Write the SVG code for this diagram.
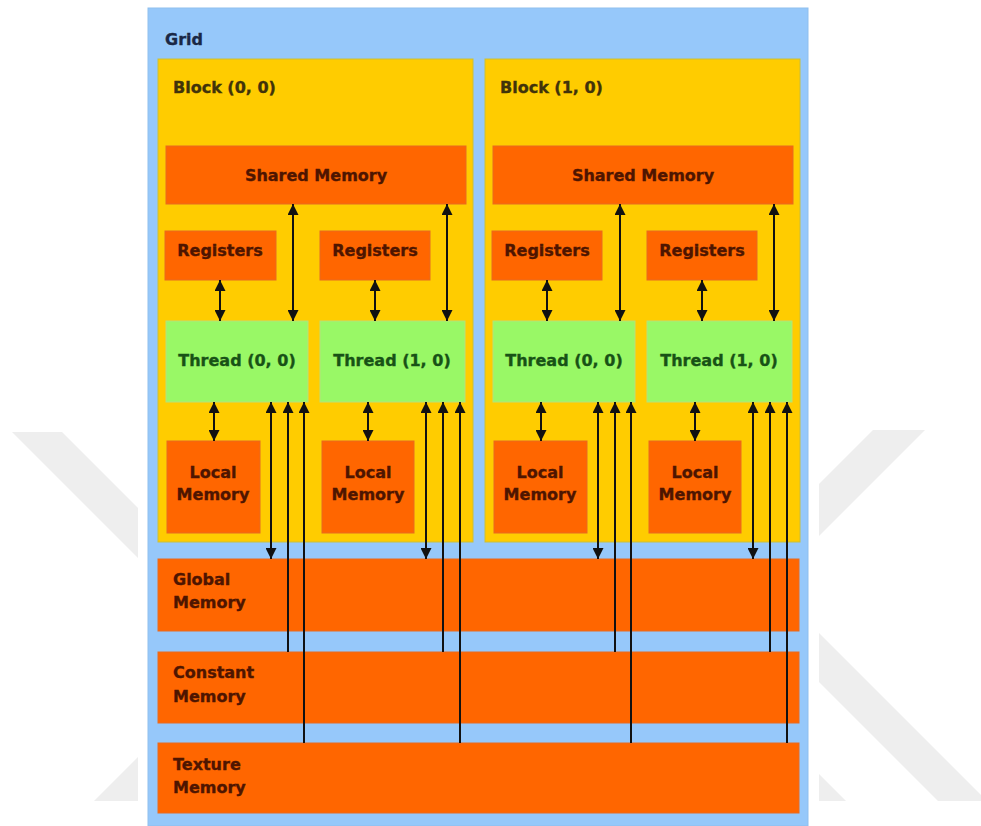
<svg xmlns="http://www.w3.org/2000/svg" width="981" height="826" viewBox="0 0 981 826">
<style>
  text { font-family: "DejaVu Sans", "Liberation Sans", sans-serif; font-weight: bold; font-size: 16px; stroke-width: 0.35px; }
  .wm { fill: #eeeeee; }
  .grid { fill: #96c8fa; stroke: #8fbfee; stroke-width: 1; }
  .block { fill: #ffcc00; stroke: #c9bf3a; stroke-width: 1; }
  .mem { fill: #ff6600; stroke: #e86a20; stroke-width: 1; }
  .thr { fill: #99f866; stroke: #b8e07a; stroke-width: 1; }
  .tmem { fill: #4e1500; stroke: #4e1500; }
  .tthr { fill: #185216; stroke: #185216; text-anchor: middle; }
  .tblk { fill: #41330a; stroke: #41330a; }
  .tgrid { fill: #1a2846; stroke: #1a2846; }
  .c { text-anchor: middle; }
  .ln { stroke: #111; stroke-width: 2; fill: none; }
</style>
<defs>
  <marker id="ah" viewBox="0 0 11 11" refX="11" refY="5.5" markerWidth="11" markerHeight="11" markerUnits="userSpaceOnUse" orient="auto-start-reverse">
    <path d="M0,0 L11,5.5 L0,11 Z" fill="#111"/>
  </marker>
</defs>
<rect width="981" height="826" fill="#ffffff"/>
<g id="watermark">
  <polygon class="wm" points="12,432 62,432 138,508 138,558"/>
  <polygon class="wm" points="138,757 138,801 94,801"/>
  <polygon class="wm" points="873,430 925,430 819,536 819,484"/>
  <polygon class="wm" points="819,633 981,795 981,801 938,801 819,682"/>
  <polygon class="wm" points="819,774 846,801 819,801"/>
</g>
<g id="grid">
  <rect class="grid" x="148" y="8" width="660" height="818"/>
  <text class="tgrid" x="165" y="45">Grid</text>
</g>
<g id="block00">
  <rect class="block" x="158" y="59" width="315" height="483"/>
  <text class="tblk" x="173" y="93">Block (0, 0)</text>
</g>
<g id="block10">
  <rect class="block" x="485" y="59" width="315" height="483"/>
  <text class="tblk" x="500" y="93">Block (1, 0)</text>
</g>
<g id="shared0">
  <rect class="mem" x="166" y="146" width="300" height="58"/>
  <text class="tmem c" x="316" y="181">Shared Memory</text>
</g>
<g id="shared1">
  <rect class="mem" x="493" y="146" width="300" height="58"/>
  <text class="tmem c" x="643" y="181">Shared Memory</text>
</g>
<g id="reg00">
  <rect class="mem" x="165" y="231" width="111" height="49"/>
  <text class="tmem c" x="220" y="256">Registers</text>
</g>
<g id="reg01">
  <rect class="mem" x="320" y="231" width="110" height="49"/>
  <text class="tmem c" x="375" y="256">Registers</text>
</g>
<g id="reg10">
  <rect class="mem" x="492" y="231" width="110" height="49"/>
  <text class="tmem c" x="547" y="256">Registers</text>
</g>
<g id="reg11">
  <rect class="mem" x="647" y="231" width="110" height="49"/>
  <text class="tmem c" x="702" y="256">Registers</text>
</g>
<g id="thread00">
  <rect class="thr" x="166" y="321" width="142" height="81"/>
  <text class="tthr" x="237" y="366">Thread (0, 0)</text>
</g>
<g id="thread01">
  <rect class="thr" x="320" y="321" width="145" height="81"/>
  <text class="tthr" x="392" y="366">Thread (1, 0)</text>
</g>
<g id="thread10">
  <rect class="thr" x="493" y="321" width="142" height="81"/>
  <text class="tthr" x="564" y="366">Thread (0, 0)</text>
</g>
<g id="thread11">
  <rect class="thr" x="647" y="321" width="145" height="81"/>
  <text class="tthr" x="719" y="366">Thread (1, 0)</text>
</g>
<g id="local00">
  <rect class="mem" x="167" y="441" width="93" height="92"/>
  <text class="tmem c" x="213" y="478">Local</text>
  <text class="tmem c" x="213" y="500">Memory</text>
</g>
<g id="local01">
  <rect class="mem" x="322" y="441" width="92" height="92"/>
  <text class="tmem c" x="368" y="478">Local</text>
  <text class="tmem c" x="368" y="500">Memory</text>
</g>
<g id="local10">
  <rect class="mem" x="494" y="441" width="93" height="92"/>
  <text class="tmem c" x="540" y="478">Local</text>
  <text class="tmem c" x="540" y="500">Memory</text>
</g>
<g id="local11">
  <rect class="mem" x="649" y="441" width="92" height="92"/>
  <text class="tmem c" x="695" y="478">Local</text>
  <text class="tmem c" x="695" y="500">Memory</text>
</g>
<g id="global">
  <rect class="mem" x="158" y="559" width="641" height="72"/>
  <text class="tmem" x="173" y="585">Global</text>
  <text class="tmem" x="173" y="608">Memory</text>
</g>
<g id="constant">
  <rect class="mem" x="158" y="652" width="641" height="71"/>
  <text class="tmem" x="173" y="678">Constant</text>
  <text class="tmem" x="173" y="702">Memory</text>
</g>
<g id="texture">
  <rect class="mem" x="158" y="743" width="641" height="70"/>
  <text class="tmem" x="173" y="770">Texture</text>
  <text class="tmem" x="173" y="793">Memory</text>
</g>
<g id="connectors">
  <!-- block 0 thread 0 -->
  <line class="ln" x1="220" y1="280" x2="220" y2="321" marker-start="url(#ah)" marker-end="url(#ah)"/>
  <line class="ln" x1="293" y1="204" x2="293" y2="321" marker-start="url(#ah)" marker-end="url(#ah)"/>
  <line class="ln" x1="214" y1="402" x2="214" y2="441" marker-start="url(#ah)" marker-end="url(#ah)"/>
  <line class="ln" x1="271" y1="402" x2="271" y2="559" marker-start="url(#ah)" marker-end="url(#ah)"/>
  <line class="ln" x1="288" y1="652" x2="288" y2="402" marker-end="url(#ah)"/>
  <line class="ln" x1="304" y1="743" x2="304" y2="402" marker-end="url(#ah)"/>
  <!-- block 0 thread 1 -->
  <line class="ln" x1="375" y1="280" x2="375" y2="321" marker-start="url(#ah)" marker-end="url(#ah)"/>
  <line class="ln" x1="447" y1="204" x2="447" y2="321" marker-start="url(#ah)" marker-end="url(#ah)"/>
  <line class="ln" x1="368" y1="402" x2="368" y2="441" marker-start="url(#ah)" marker-end="url(#ah)"/>
  <line class="ln" x1="426" y1="402" x2="426" y2="559" marker-start="url(#ah)" marker-end="url(#ah)"/>
  <line class="ln" x1="443" y1="652" x2="443" y2="402" marker-end="url(#ah)"/>
  <line class="ln" x1="460" y1="743" x2="460" y2="402" marker-end="url(#ah)"/>
  <!-- block 1 thread 0 -->
  <line class="ln" x1="547" y1="280" x2="547" y2="321" marker-start="url(#ah)" marker-end="url(#ah)"/>
  <line class="ln" x1="620" y1="204" x2="620" y2="321" marker-start="url(#ah)" marker-end="url(#ah)"/>
  <line class="ln" x1="541" y1="402" x2="541" y2="441" marker-start="url(#ah)" marker-end="url(#ah)"/>
  <line class="ln" x1="598" y1="402" x2="598" y2="559" marker-start="url(#ah)" marker-end="url(#ah)"/>
  <line class="ln" x1="615" y1="652" x2="615" y2="402" marker-end="url(#ah)"/>
  <line class="ln" x1="631" y1="743" x2="631" y2="402" marker-end="url(#ah)"/>
  <!-- block 1 thread 1 -->
  <line class="ln" x1="702" y1="280" x2="702" y2="321" marker-start="url(#ah)" marker-end="url(#ah)"/>
  <line class="ln" x1="774" y1="204" x2="774" y2="321" marker-start="url(#ah)" marker-end="url(#ah)"/>
  <line class="ln" x1="695" y1="402" x2="695" y2="441" marker-start="url(#ah)" marker-end="url(#ah)"/>
  <line class="ln" x1="753" y1="402" x2="753" y2="559" marker-start="url(#ah)" marker-end="url(#ah)"/>
  <line class="ln" x1="770" y1="652" x2="770" y2="402" marker-end="url(#ah)"/>
  <line class="ln" x1="787" y1="743" x2="787" y2="402" marker-end="url(#ah)"/>
</g>
</svg>
